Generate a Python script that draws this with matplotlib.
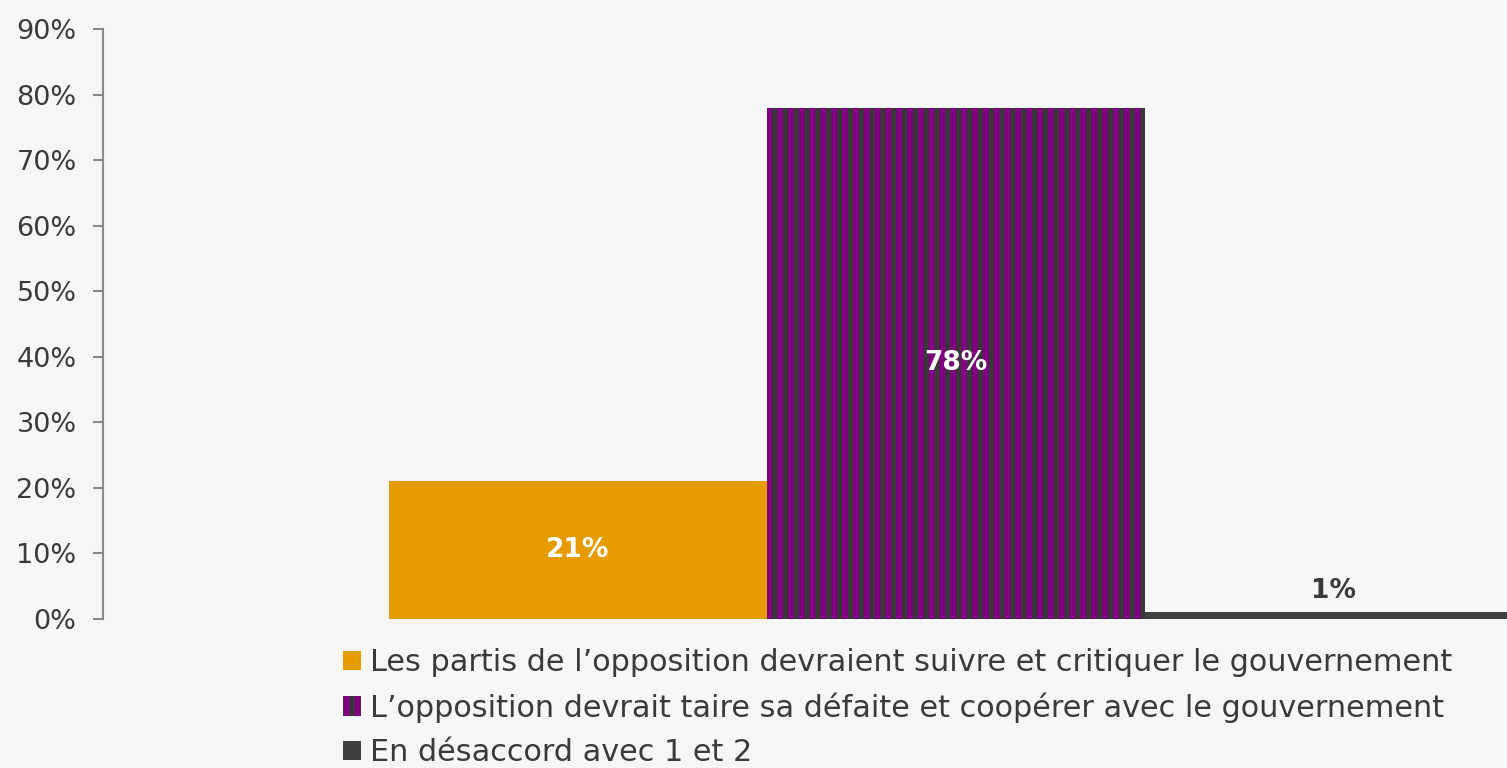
import matplotlib.pyplot as plt
from matplotlib.patches import Patch

# data
labels = ["Les partis de l\u2019opposition devraient suivre et critiquer le gouvernement",
          "L\u2019opposition devrait taire sa d\u00e9faite et coop\u00e9rer avec le gouvernement",
          "En d\u00e9saccord avec 1 et 2"]
values = [21, 78, 1]
yticks = [0, 10, 20, 30, 40, 50, 60, 70, 80, 90]

orange = '#e69c00'
purple = '#820082'
dark = '#404040'
stripe = '#383838'
textc = '#3a3a3a'
bg = '#f6f6f6'

# render at dpi 65 so that the '|' hatch gives ~11 px stripes;
# S converts "points at dpi 100" into points at dpi 65
DPI = 65
S = 100 / DPI

plt.rcParams['font.family'] = ['DejaVu Sans']
plt.rcParams['hatch.color'] = stripe
plt.rcParams['hatch.linewidth'] = 5.5

fig = plt.figure(figsize=(1507 / DPI, 768 / DPI), dpi=DPI, facecolor=bg)
ax = fig.add_axes([103/1507, 1 - 619/768, 1 - 103/1507, (619 - 29)/768])
ax.set_facecolor(bg)

x = [0, 1, 2]
bars = ax.bar(x, values, width=1.0, color=[orange, purple, dark], linewidth=0)
bars[1].set_hatch('|')
bars[1].set_edgecolor(stripe)
bars[1].set_linewidth(0)

ax.set_xlim(-1.2566, 2.4577)
ax.set_ylim(0, 90)
ax.set_yticks(yticks)
ax.set_yticklabels([f"{t}%" for t in yticks], fontsize=19.5 * S, color=textc)
ax.tick_params(axis='y', length=7 * S, width=1.5 * S, color='#8c8c8c', pad=12 * S)
ax.set_xticks([])
for s in ['top', 'right', 'bottom']:
    ax.spines[s].set_visible(False)
ax.spines['left'].set_color('#8c8c8c')
ax.spines['left'].set_linewidth(1.5 * S)

# value labels
ax.text(0, values[0] / 2, "21%", ha='center', va='center', color='white',
        fontsize=19 * S, fontweight='bold')
ax.text(1, values[1] / 2, "78%", ha='center', va='center', color='white',
        fontsize=19 * S, fontweight='bold')
ax.text(2, values[2] + 1.3, "1%", ha='center', va='bottom', color=textc,
        fontsize=19 * S, fontweight='bold')

handles = [Patch(facecolor=orange, linewidth=0),
           Patch(facecolor=purple, hatch='|', edgecolor=stripe, linewidth=0),
           Patch(facecolor=dark, linewidth=0)]
leg = fig.legend(handles, labels, loc='upper left',
                 bbox_to_anchor=(331/1507, 1 - 636/768), frameon=False,
                 fontsize=21.8 * S, handlelength=0.6, handleheight=0.6,
                 handletextpad=0.3, labelspacing=0.5, borderaxespad=0)
for t in leg.get_texts():
    t.set_color(textc)

fig.savefig('out.png', dpi=DPI, facecolor=bg)
